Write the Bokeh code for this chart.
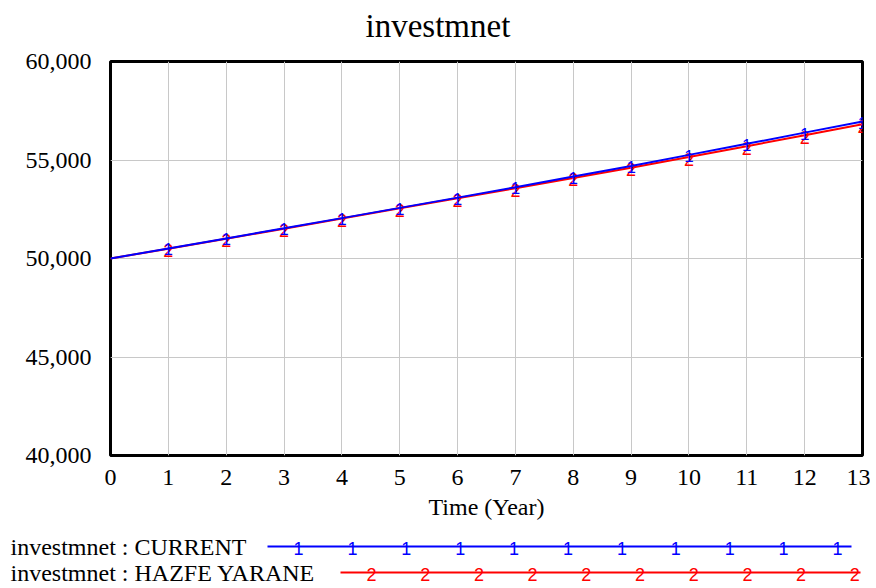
from bokeh.plotting import figure
from bokeh.models import Range1d, FixedTicker, NumeralTickFormatter, ColumnDataSource
from bokeh.layouts import column
from bokeh.embed import file_html
from bokeh.resources import INLINE
from bokeh.core.properties import value

# ---- data ----
years = list(range(14))
current = [50000, 50510, 51020, 51530, 52050, 52570, 53090, 53620, 54160,
           54700, 55260, 55820, 56390, 56950]
hazfe_yarane = [50000, 50500, 51005, 51515, 52030, 52550, 53060, 53570, 54090,
                54610, 55150, 55700, 56260, 56820]
series_names = ["investmnet : CURRENT", "investmnet : HAZFE YARANE"]
series_marks = ["1", "2"]
series_colors = ["blue", "red"]
x_ticks = list(range(14))
y_ticks = [40000, 45000, 50000, 55000, 60000]
title_text = "investmnet"
x_label = "Time (Year)"

FONT = "Liberation Serif"
MFONT = "Liberation Sans"

W = 870
HEAD_H = 46                          # title strip: page y 0..46
FL, FR, FT, FB = 110, 862, 61, 455   # chart frame edges in page pixels
MAIN_BOTTOM = 528                    # chart canvas ends here
TOTAL_H = 588
LEG_H = TOTAL_H - MAIN_BOTTOM


def bare(width, height, xr, yr):
    f = figure(width=width, height=height, x_range=xr, y_range=yr,
               output_backend="svg", toolbar_location=None, frame_align=False,
               min_border_left=0, min_border_right=0, min_border_top=0, min_border_bottom=0)
    f.title.text = ""
    f.axis.visible = False
    f.grid.visible = False
    f.outline_line_color = None
    return f


# ---- title strip ----
head = bare(W, HEAD_H, Range1d(0, W), Range1d(0, HEAD_H))
head.text(x=[365], y=[HEAD_H - 25], text=[title_text], text_font=value(FONT),
          text_font_size="33px", text_color="black", text_align="left",
          text_baseline="middle")

# ---- main chart ----
p = figure(width=W, height=MAIN_BOTTOM - HEAD_H, x_range=Range1d(0, 13),
           y_range=Range1d(40000, 60000), output_backend="svg", toolbar_location=None,
           frame_align=False,
           min_border_left=FL, min_border_right=W - FR, min_border_top=FT - HEAD_H,
           min_border_bottom=MAIN_BOTTOM - FB)
p.title.text = ""
p.outline_line_color = "black"
p.outline_line_width = 3
p.outline_line_alpha = 1.0

p.xaxis.ticker = FixedTicker(ticks=x_ticks)
p.yaxis.ticker = FixedTicker(ticks=y_ticks)
p.yaxis.formatter = NumeralTickFormatter(format="0,0")
for ax in (p.xaxis, p.yaxis):
    ax.axis_line_color = None
    ax.major_tick_line_color = None
    ax.minor_tick_line_color = None
    ax.major_tick_out = 0
    ax.major_tick_in = 0
    ax.minor_tick_out = 0
    ax.minor_tick_in = 0
    ax.major_label_text_font = FONT
    ax.major_label_text_font_size = "24px"
    ax.major_label_text_color = "black"
p.xaxis.major_label_standoff = 14
p.yaxis.major_label_standoff = 19
p.xaxis.axis_label = x_label
p.xaxis.axis_label_text_font = FONT
p.xaxis.axis_label_text_font_size = "24px"
p.xaxis.axis_label_text_font_style = "normal"
p.xaxis.axis_label_text_color = "black"
p.xaxis.axis_label_standoff = 6

p.xgrid.ticker = FixedTicker(ticks=x_ticks)
p.ygrid.ticker = FixedTicker(ticks=y_ticks)
p.grid.grid_line_color = "#c8c8c8"
p.grid.grid_line_width = 1

src_c = ColumnDataSource(dict(x=years, y=current))
src_h = ColumnDataSource(dict(x=years, y=hazfe_yarane))
mk_c = ColumnDataSource(dict(x=years[1:], y=current[1:], t=[series_marks[0]] * (len(years) - 1)))
mk_h = ColumnDataSource(dict(x=years[1:], y=hazfe_yarane[1:], t=[series_marks[1]] * (len(years) - 1)))

p.line("x", "y", source=src_h, line_color=series_colors[1], line_width=2)
p.text("x", "y", text="t", source=mk_h, text_color=series_colors[1], text_font=value(MFONT),
       text_font_size="18px", text_align="center", text_baseline="middle", y_offset=2)
p.line("x", "y", source=src_c, line_color=series_colors[0], line_width=2)
p.text("x", "y", text="t", source=mk_c, text_color=series_colors[0], text_font=value(MFONT),
       text_font_size="17px", text_align="center", text_baseline="middle", y_offset=1)

# ---- legend strip (page pixel positions; y measured from the strip bottom) ----
lg = bare(W, LEG_H, Range1d(0, W), Range1d(0, LEG_H))
rows = [
    dict(y=546, x0=267, x1=851, m0=298, step=53.9, n=11),
    dict(y=572, x0=340, x1=860, m0=371, step=53.7, n=10),
]
for i, r in enumerate(rows):
    yy = TOTAL_H - r["y"]
    lg.text(x=[10], y=[yy], text=[series_names[i]], text_font=value(FONT),
            text_font_size="24px", text_color="black", text_align="left",
            text_baseline="middle")
    lg.line(x=[r["x0"], r["x1"]], y=[yy, yy], line_color=series_colors[i], line_width=2)
    mx = [r["m0"] + k * r["step"] for k in range(r["n"])]
    lg.text(x=mx, y=[yy] * r["n"], text=[series_marks[i]] * r["n"],
            text_font=value(MFONT), text_font_size="18px", text_color=series_colors[i],
            text_align="center", text_baseline="middle", y_offset=2)

layout = column(head, p, lg, spacing=0)
open("out.html", "w").write(file_html(layout, INLINE))
